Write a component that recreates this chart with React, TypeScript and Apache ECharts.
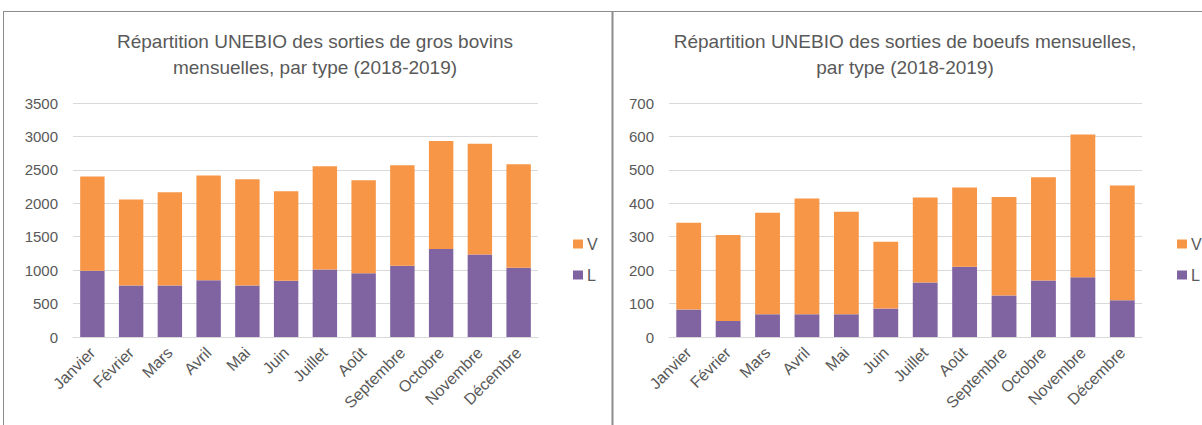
import React, { useEffect, useRef } from "react";
import * as echarts from "echarts";

const months = ["Janvier", "Février", "Mars", "Avril", "Mai", "Juin", "Juillet", "Août", "Septembre", "Octobre", "Novembre", "Décembre"];

// Left chart: gros bovins (L = bottom, V = stacked on top)
const bovinsL = [990, 770, 770, 850, 770, 840, 1010, 955, 1065, 1315, 1235, 1035];
const bovinsTotal = [2400, 2055, 2165, 2415, 2360, 2180, 2555, 2345, 2570, 2930, 2890, 2585];
const bovinsV = bovinsTotal.map((t, i) => t - bovinsL[i]);

// Right chart: boeufs
const boeufsL = [82, 48, 68, 68, 68, 85, 163, 210, 124, 169, 179, 110];
const boeufsTotal = [342, 305, 372, 414, 375, 285, 417, 447, 419, 478, 606, 453];
const boeufsV = boeufsTotal.map((t, i) => t - boeufsL[i]);

const leftTicks = { min: 0, max: 3500, interval: 500 };
const rightTicks = { min: 0, max: 700, interval: 100 };

const FONT = "'Liberation Sans', sans-serif";
const TXT = "#595959";
const PURPLE = "#8064A2";
const ORANGE = "#F79646";

export default function App() {
  const ref = useRef<HTMLDivElement>(null);
  useEffect(() => {
    if (!ref.current) return;
    const chart = echarts.init(ref.current, undefined, { renderer: "svg" });
    const xAxisBase = (gridIndex: number) => ({
      type: "category" as const,
      gridIndex,
      data: months,
      axisTick: { show: false },
      axisLine: { lineStyle: { color: "#d9d9d9" } },
      axisLabel: { rotate: 45, color: TXT, fontSize: 16, fontFamily: FONT, margin: 13, interval: 0 },
    });
    const yAxisBase = (gridIndex: number, t: { min: number; max: number; interval: number }) => ({
      type: "value" as const,
      gridIndex,
      min: t.min,
      max: t.max,
      interval: t.interval,
      axisLine: { show: false },
      axisTick: { show: false },
      splitLine: { lineStyle: { color: "#d9d9d9" } },
      axisLabel: { color: TXT, fontSize: 15, fontFamily: FONT, margin: 15, formatter: (v: number) => String(v) },
    });
    const legendBase = (left: number) => ({
      data: ["V", "L"],
      orient: "vertical" as const,
      left,
      top: 231,
      itemWidth: 10,
      itemHeight: 9,
      itemGap: 15,
      icon: "rect",
      textStyle: { color: TXT, fontSize: 16, fontFamily: FONT, padding: [0, 0, 0, -1] },
    });
    chart.setOption({
      animation: false,
      title: [
        {
          text: "Répartition UNEBIO des sorties de gros bovins\nmensuelles, par type (2018-2019)",
          left: 310,
          top: 23,
          textAlign: "center",
          textStyle: { color: TXT, fontSize: 19, fontWeight: "normal", fontFamily: FONT, lineHeight: 26 },
        },
        {
          text: "Répartition UNEBIO des sorties de boeufs mensuelles,\npar type (2018-2019)",
          left: 900,
          top: 23,
          textAlign: "center",
          textStyle: { color: TXT, fontSize: 19, fontWeight: "normal", fontFamily: FONT, lineHeight: 26 },
        },
      ],
      legend: [legendBase(568), legendBase(1172)],
      grid: [
        { left: 73, width: 465, top: 103, height: 234 },
        { left: 669, width: 473, top: 103, height: 234 },
      ],
      xAxis: [xAxisBase(0), xAxisBase(1)],
      yAxis: [yAxisBase(0, leftTicks), yAxisBase(1, rightTicks)],
      series: [
        { name: "L", type: "bar", stack: "a", xAxisIndex: 0, yAxisIndex: 0, data: bovinsL, barWidth: "63%", itemStyle: { color: PURPLE } },
        { name: "V", type: "bar", stack: "a", xAxisIndex: 0, yAxisIndex: 0, data: bovinsV, barWidth: "63%", itemStyle: { color: ORANGE } },
        { name: "L", type: "bar", stack: "b", xAxisIndex: 1, yAxisIndex: 1, data: boeufsL, barWidth: "63%", itemStyle: { color: PURPLE } },
        { name: "V", type: "bar", stack: "b", xAxisIndex: 1, yAxisIndex: 1, data: boeufsV, barWidth: "63%", itemStyle: { color: ORANGE } },
      ],
      graphic: [
        { type: "line", shape: { x1: 3, y1: 11.5, x2: 1202, y2: 11.5 }, style: { stroke: "#8c8c8c", lineWidth: 1 } },
        { type: "line", shape: { x1: 3.5, y1: 11, x2: 3.5, y2: 425 }, style: { stroke: "#8c8c8c", lineWidth: 1 } },
        { type: "line", shape: { x1: 612.5, y1: 11, x2: 612.5, y2: 425 }, style: { stroke: "#8c8c8c", lineWidth: 2 } },
      ],
    });
    return () => chart.dispose();
  }, []);
  return <div ref={ref} style={{ position: "absolute", left: 0, top: 0, width: 1202, height: 425, background: "#fff" }} />;
}
